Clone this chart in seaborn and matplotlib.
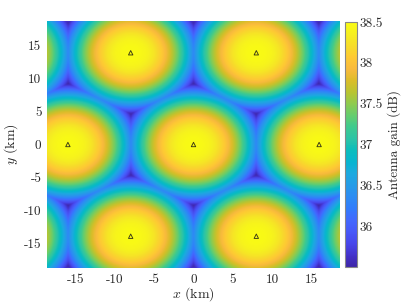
import numpy as np
import matplotlib
matplotlib.use("Agg")
import matplotlib.pyplot as plt
from matplotlib.colors import LinearSegmentedColormap
import seaborn as sns
import pandas as pd

# ---- data ----
# displayed base stations (triangles), km
bs_x = [0.0, 16.0, -16.0, 8.0, -8.0, 8.0, -8.0]
bs_y = [0.0, 0.0, 0.0, 13.86, 13.86, -13.86, -13.86]
# surrounding (off-plot) sites that shape the field near the edges, km
outer_x = [32.0, -32.0, 16.0, -16.0, 16.0, -16.0, 24.0, 24.0, -24.0, -24.0, 0.0, 0.0]
outer_y = [0.0, 0.0, 27.71, 27.71, -27.71, -27.71, 13.86, -13.86, 13.86, -13.86, 27.71, -27.71]
# radial gain profile: distance to serving site (km) -> antenna gain (dB)
prof_d = [0.0, 1.0, 2.0, 3.0, 4.0, 5.0, 6.0, 7.0, 8.0, 9.24]
prof_g = [38.50, 38.48, 38.41, 38.27, 38.06, 37.76, 37.37, 36.89, 36.32, 35.51]
# axis range and ticks
x_lim = [-18.66, 18.66]
y_lim = [-18.66, 18.66]
x_ticks = [-15, -10, -5, 0, 5, 10, 15]
y_ticks = [-15, -10, -5, 0, 5, 10, 15]
cbar_ticks = [36, 36.5, 37, 37.5, 38, 38.5]
cbar_labels = ["36", "36.5", "37", "37.5", "38", "38.5"]
cbar_lim = [35.5, 38.5]

# parula colormap (MATLAB default)
parula = LinearSegmentedColormap.from_list("parula", [
    (0.2422, 0.1504, 0.6603), (0.2647, 0.1978, 0.7952), (0.2803, 0.2782, 0.9221),
    (0.2795, 0.3447, 0.9717), (0.2602, 0.4123, 0.9952), (0.1963, 0.4847, 0.9892),
    (0.1764, 0.5499, 0.9520), (0.1460, 0.6091, 0.9079), (0.1113, 0.6635, 0.8763),
    (0.0297, 0.7082, 0.8163), (0.0433, 0.7411, 0.7394), (0.1717, 0.7670, 0.6554),
    (0.2470, 0.7918, 0.5567), (0.3909, 0.8029, 0.4354), (0.5616, 0.7942, 0.3045),
    (0.7242, 0.7698, 0.1910), (0.8634, 0.7406, 0.1596), (0.9728, 0.7298, 0.2394),
    (0.9952, 0.7893, 0.2028), (0.9676, 0.8639, 0.1643), (0.9628, 0.9373, 0.1265),
    (0.9769, 0.9839, 0.0805)], N=256)

# ---- field ----
sx = np.array(bs_x + outer_x)
sy = np.array(bs_y + outer_y)
gx = np.linspace(x_lim[0], x_lim[1], 400)
gy = np.linspace(y_lim[0], y_lim[1], 400)
X, Y = np.meshgrid(gx, gy)
D = np.min(np.hypot(X[..., None] - sx, Y[..., None] - sy), axis=-1)
G = np.interp(D, prof_d, prof_g)

# ---- plot ----
sns.set_theme(style="white")
plt.rcParams["font.family"] = ["cmr10", "DejaVu Serif"]
plt.rcParams["mathtext.fontset"] = "cm"
plt.rcParams["axes.unicode_minus"] = False
plt.rcParams["axes.formatter.use_mathtext"] = False

fig = plt.figure(figsize=(4.07, 3.05), dpi=100)
ax = fig.add_axes([47/407, 1 - 268/305, (340 - 47)/407, (268 - 21)/305])
cax = fig.add_axes([345/407, 1 - 267/305, (356.5 - 345)/407, (267 - 22)/305])

im = ax.imshow(G, extent=[x_lim[0], x_lim[1], y_lim[0], y_lim[1]], origin="lower",
               aspect="auto", cmap=parula, vmin=cbar_lim[0], vmax=cbar_lim[1],
               interpolation="bilinear")
df = pd.DataFrame({"x": bs_x, "y": bs_y})
sns.scatterplot(data=df, x="x", y="y", marker="^", s=10, facecolor="none",
                edgecolor="#3a3a15", linewidth=0.65, ax=ax, zorder=3)
ax.set_xlim(x_lim)
ax.set_ylim(y_lim)
ax.set_xticks(x_ticks)
ax.set_yticks(y_ticks)
ax.set_xticklabels([str(t) for t in x_ticks])
ax.set_yticklabels([str(t) for t in y_ticks])
ax.tick_params(length=0, labelsize=9.5, pad=4, colors="#262626")
ax.set_xlabel(r"$x$ (km)", fontsize=10, labelpad=0, color="#262626")
ax.set_ylabel(r"$y$ (km)", fontsize=10, labelpad=3, color="#262626")
for s in ax.spines.values():
    s.set_visible(False)

cb = fig.colorbar(im, cax=cax, ticks=cbar_ticks)
cb.ax.set_yticklabels(cbar_labels)
cb.ax.tick_params(direction="in", length=2.5, width=0.6, labelsize=9.5, pad=2,
                  colors="#262626")
cb.outline.set_edgecolor("#888888")
cb.outline.set_linewidth(0.8)
cb.set_label("Antenna gain (dB)", fontsize=9.5, labelpad=3, color="#262626")

fig.savefig("out.png", dpi=100)
